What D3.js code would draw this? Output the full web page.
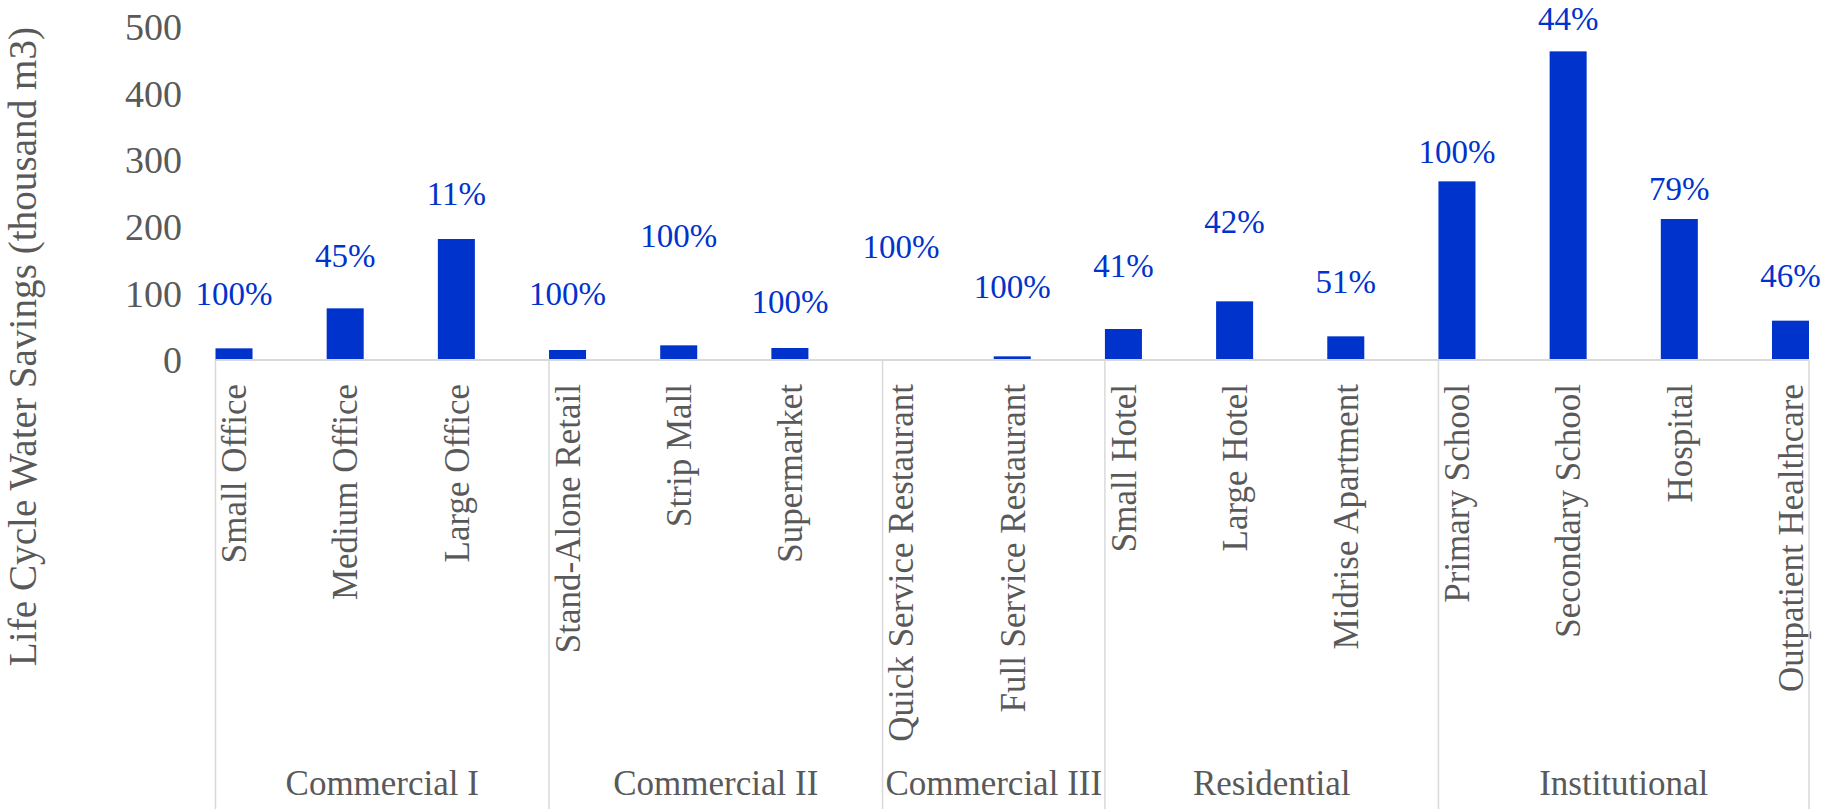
<!DOCTYPE html>
<html>
<head>
<meta charset="utf-8">
<script src="https://cdn.jsdelivr.net/npm/d3@7"></script>
<style>
  html, body { margin: 0; padding: 0; background: #fff; }
  svg text { font-family: "Liberation Serif", "Times New Roman", serif; }
</style>
</head>
<body>
<svg id="chart" width="1827" height="809"></svg>
<script>
// building types, grouped as on the original category axis
var categories = ['Small Office', 'Medium Office', 'Large Office',
  'Stand-Alone Retail', 'Strip Mall', 'Supermarket',
  'Quick Service Restaurant', 'Full Service Restaurant',
  'Small Hotel', 'Large Hotel', 'Midrise Apartment',
  'Primary School', 'Secondary School', 'Hospital', 'Outpatient Healthcare'];
var groupNames = ['Commercial I', 'Commercial II', 'Commercial III', 'Residential', 'Institutional'];
var groupSizes = [3, 3, 2, 3, 4];

// life cycle water savings, thousand m3
var savings = [17.5, 77.5, 181.5, 15, 22, 18, 1.5, 5.5, 46.5, 88, 35.5, 268, 463, 211.5, 59];
// percentage labels and the height (axis units) where each one sits
var pctLabels = ['100%', '45%', '11%', '100%', '100%', '100%', '100%', '100%',
  '41%', '42%', '51%', '100%', '44%', '79%', '46%'];
var labelAt = [100, 157.5, 250, 100, 187.5, 87.5, 170, 110, 142.5, 207.5, 117.5, 312.5, 512, 257.5, 127.5];

var yTicks = [0, 100, 200, 300, 400, 500];

var svg = d3.select('#chart');
var gray = '#595959', axisGray = '#d9d9d9', blue = '#0033cc';

var x = d3.scaleBand()
  .domain(categories)
  .range([215.5, 1809])
  .paddingInner(0.667)
  .paddingOuter(0);

var y = d3.scaleLinear().domain([0, 500]).range([360, 26.7]);

// y tick labels (no axis line)
svg.append('g').selectAll('text')
  .data(yTicks)
  .enter().append('text')
  .attr('x', 182)
  .attr('y', function(d){ return y(d); })
  .attr('dy', '0.35em')
  .attr('text-anchor', 'end')
  .attr('fill', gray)
  .style('font-size', '38px')
  .text(function(d){ return d; });

// y title
svg.append('text')
  .attr('transform', 'translate(36,346.5) rotate(-90)')
  .attr('text-anchor', 'middle')
  .attr('fill', gray)
  .style('font-size', '39.2px')
  .text('Life Cycle Water Savings (thousand m3)');

// bars
svg.append('g').selectAll('rect')
  .data(categories)
  .enter().append('rect')
  .attr('x', function(d){ return x(d); })
  .attr('width', x.bandwidth())
  .attr('y', function(d, i){ return y(savings[i]); })
  .attr('height', function(d, i){ return y(0) - y(savings[i]); })
  .attr('fill', blue);

// data labels
svg.append('g').selectAll('text')
  .data(categories)
  .enter().append('text')
  .attr('x', function(d){ return x(d) + x.bandwidth() / 2; })
  .attr('y', function(d, i){ return y(labelAt[i]); })
  .attr('dy', '0.35em')
  .attr('text-anchor', 'middle')
  .attr('fill', blue)
  .style('font-size', '33px')
  .text(function(d, i){ return pctLabels[i]; });

// category axis line
svg.append('line')
  .attr('x1', x.range()[0]).attr('x2', x.range()[1])
  .attr('y1', y(0)).attr('y2', y(0))
  .attr('stroke', axisGray).attr('stroke-width', 2);

// rotated category labels
svg.append('g').selectAll('text')
  .data(categories)
  .enter().append('text')
  .attr('transform', function(d){
    return 'translate(' + (x(d) + x.bandwidth() / 2) + ',384) rotate(-90)';
  })
  .attr('dy', '0.35em')
  .attr('text-anchor', 'end')
  .attr('fill', gray)
  .style('font-size', '35px')
  .text(function(d){ return d; });

// group separators and group labels
var bounds = [], start = 0;
groupSizes.forEach(function(n){
  bounds.push([x(categories[start]), start + n < categories.length ? x(categories[start + n]) : x.range()[1]]);
  start += n;
});

svg.append('g').selectAll('line')
  .data(bounds.map(function(b){ return b[0]; }).concat([x.range()[1]]))
  .enter().append('line')
  .attr('x1', function(d){ return d; }).attr('x2', function(d){ return d; })
  .attr('y1', y(0)).attr('y2', 809)
  .attr('stroke', axisGray).attr('stroke-width', 1.5);

svg.append('g').selectAll('text')
  .data(groupNames)
  .enter().append('text')
  .attr('x', function(d, i){ return (bounds[i][0] + bounds[i][1]) / 2; })
  .attr('y', 795)
  .attr('text-anchor', 'middle')
  .attr('fill', gray)
  .style('font-size', '35px')
  .text(function(d){ return d; });
</script>
</body>
</html>
